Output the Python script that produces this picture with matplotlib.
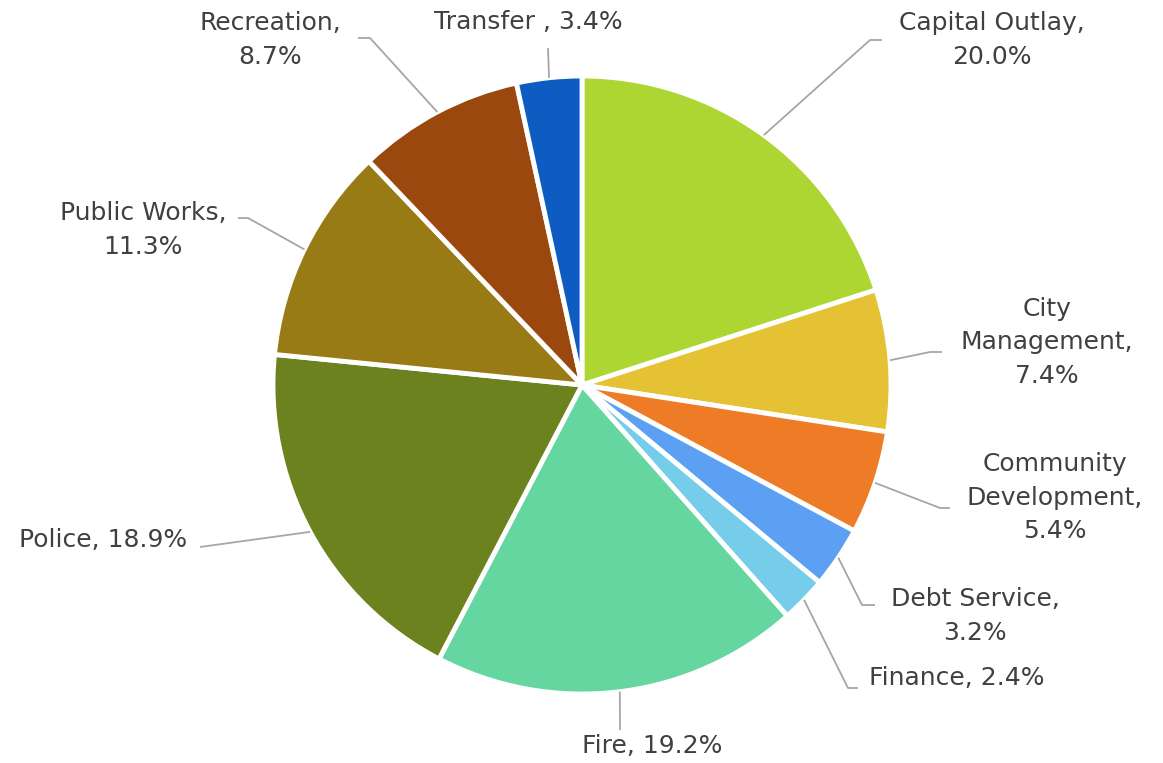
import matplotlib
matplotlib.use("Agg")
import matplotlib.pyplot as plt
import numpy as np

categories = ["Capital Outlay", "City Management", "Community Development",
              "Debt Service", "Finance", "Fire", "Police", "Public Works",
              "Recreation", "Transfer "]
shares = [20.0, 7.4, 5.4, 3.2, 2.4, 19.2, 18.9, 11.3, 8.7, 3.4]
colors = ["#ADD633", "#E5C233", "#EE7B25", "#5BA0F3", "#75CDEA",
          "#66D6A1", "#6B821E", "#997B15", "#9B480E", "#0E5CC2"]

# label text as it appears (line breaks) and layout in pixels
label_text = ["Capital Outlay,\n20.0%", "City\nManagement,\n7.4%",
              "Community\nDevelopment,\n5.4%", "Debt Service,\n3.2%",
              "Finance, 2.4%", "Fire, 19.2%", "Police, 18.9%",
              "Public Works,\n11.3%", "Recreation,\n8.7%", "Transfer , 3.4%"]
label_xy = [(992, 40), (1047, 342), (1055, 498), (975, 616), (957, 678),
            (652, 746), (103, 540), (143, 230), (270, 40), (528, 22)]
elbow_xy = [(870, 40), (930, 352), (940, 508), (862, 605), (848, 688),
            (620, 730), (200, 547), (248, 218), (370, 38), (548, 48)]
elbow_end = [(882, 40), (942, 352), (950, 508), (875, 605), (858, 688),
             (620, 730), (200, 547), (238, 218), (358, 38), (548, 48)]

W, H = 1163, 763
cx, cy, R = 582, 385, 309


def px(p):
    return ((p[0] - cx) / R, (cy - p[1]) / R)


fig = plt.figure(figsize=(W / 100, H / 100), dpi=100)
ax = fig.add_axes([0, 0, 1, 1])

wedges, _ = ax.pie(shares, colors=colors, startangle=90, counterclock=False,
                   radius=1.0, wedgeprops=dict(edgecolor="white", linewidth=3.5))

# pie() resets the limits, so set them afterwards
ax.set_xlim(-cx / R, (W - cx) / R)
ax.set_ylim(-(H - cy) / R, cy / R)
ax.set_aspect("equal")
ax.axis("off")

for w, txt, lxy, e1, e2 in zip(wedges, label_text, label_xy, elbow_xy, elbow_end):
    mid = np.deg2rad((w.theta1 + w.theta2) / 2)
    x0, y0 = np.cos(mid), np.sin(mid)
    p1 = px(e1)
    p2 = px(e2)
    ax.plot([x0, p1[0], p2[0]], [y0, p1[1], p2[1]], color="#A6A6A6", lw=1.3,
            solid_capstyle="butt")
    lx, ly = px(lxy)
    ax.text(lx, ly, txt, ha="center", va="center", fontsize=18,
            color="#404040", linespacing=1.5, family="DejaVu Sans")

fig.savefig("out.png", dpi=100)
